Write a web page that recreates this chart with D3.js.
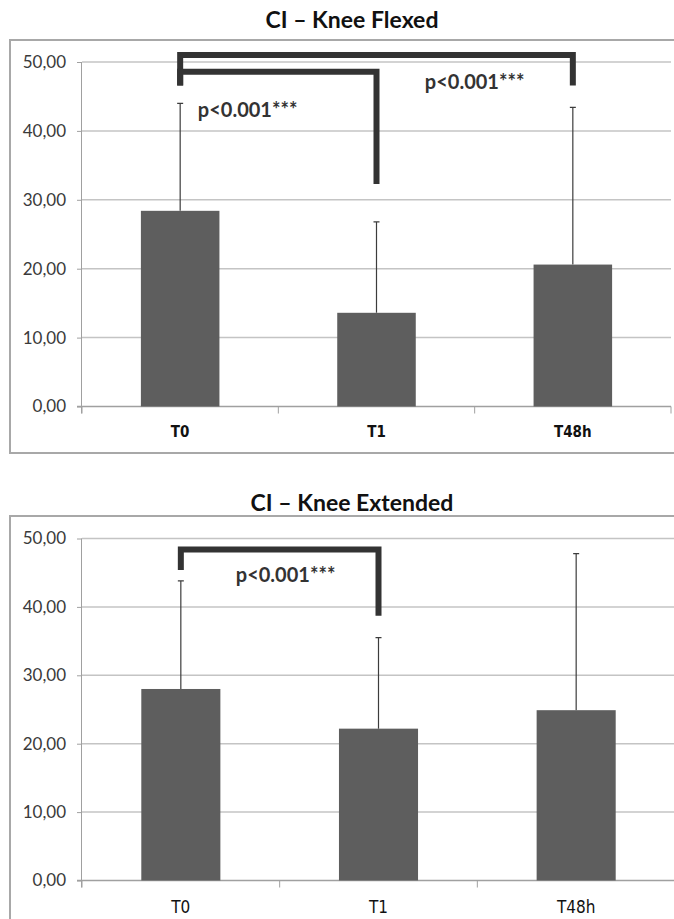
<!DOCTYPE html>
<html>
<head>
<meta charset="utf-8">
<script src="https://cdn.jsdelivr.net/npm/d3@7"></script>
<style>
  body { margin: 0; background: #fff; }
  svg { display: block; }
</style>
</head>
<body>
<div id="chart"></div>
<script>
const WIDTH = 674;
const HEIGHT = 919;

const categories = ["T0", "T1", "T48h"];
const yTicks = [0, 10, 20, 30, 40, 50];

// knee flexed: mean and SD (upper error bar only)
const flexedMeans = [28.4, 13.6, 20.6];
const flexedSD = [15.6, 13.2, 22.8];

// knee extended
const extendedMeans = [28.0, 22.2, 24.9];
const extendedSD = [15.8, 13.3, 22.9];

// significance brackets: from/to category, bar height level, end of legs
const flexedBrackets = [
    { from: "T0", to: "T48h", level: 51.0, leftEnd: 46.6, rightEnd: 46.6 },
    { from: "T0", to: "T1", level: 48.6, leftEnd: 46.6, rightEnd: 32.3 }
];
const extendedBrackets = [
    { from: "T0", to: "T1", level: 48.4, leftEnd: 45.4, rightEnd: 38.7 }
];
const flexedLabels = [
    { text: "p<0.001***", at: "T0", shift: 0.09, value: 43.1, anchor: "start" },
    { text: "p<0.001***", at: "T1", shift: 0.5, value: 47.1, anchor: "middle" }
];
const extendedLabels = [
    { text: "p<0.001***", at: "T0", shift: 0.53, value: 44.6, anchor: "middle" }
];

const svg = d3.select("#chart")
    .append("svg")
        .attr("width", WIDTH)
        .attr("height", HEIGHT)

function drawChart(opt) {
    const g = svg.append("g")

    // outer frame (runs off the right edge like the original)
    g.append("rect")
        .attr("x", 10)
        .attr("y", opt.frameTop)
        .attr("width", 700)
        .attr("height", opt.frameBottom - opt.frameTop)
        .attr("fill", "#fff")
        .attr("stroke", "#a8a8a8")
        .attr("stroke-width", 2)

    g.append("text")
        .attr("x", 352)
        .attr("y", opt.titleY)
        .attr("text-anchor", "middle")
        .attr("font-family", "Lato, 'Open Sans', sans-serif")
        .attr("font-weight", "bold")
        .attr("font-size", 23)
        .attr("fill", "#111")
        .text(opt.title)

    const y = d3.scaleLinear()
        .domain([0, 50])
        .range([opt.y0, opt.y50])

    const x = d3.scaleBand()
        .domain(categories)
        .range(opt.xRange)
        .padding(0)

    // gridlines
    g.selectAll(".grid")
        .data(yTicks.filter(d => d > 0))
        .enter()
        .append("line")
            .attr("x1", opt.xRange[0])
            .attr("x2", opt.xRange[1])
            .attr("y1", d => y(d))
            .attr("y2", d => y(d))
            .attr("stroke", "#c4c4c4")
            .attr("stroke-width", 1.5)

    // y axis
    const yAxis = d3.axisLeft(y)
        .tickValues(yTicks)
        .tickSize(5)
        .tickPadding(11)
        .tickFormat(d => d3.format(".2f")(d).replace(".", ","))

    const ya = g.append("g")
        .attr("transform", `translate(${opt.xRange[0]},0)`)
        .call(yAxis)
    ya.select(".domain").attr("stroke", "#a0a0a0").attr("d", `M-0.5,${opt.y50}V${opt.y0 + 7}`)
    ya.selectAll(".tick line").attr("stroke", "#a0a0a0")
    ya.selectAll(".tick text")
        .attr("font-family", "Lato, 'Open Sans', sans-serif")
        .attr("font-size", 17)
        .attr("fill", "#3a3a3a")

    // x axis with ticks at band edges
    const edges = categories.map(c => x(c)).concat([opt.xRange[1]])
    g.append("line")
        .attr("x1", opt.xRange[0] - 5)
        .attr("x2", opt.xRange[1])
        .attr("y1", y(0))
        .attr("y2", y(0))
        .attr("stroke", "#a0a0a0")
        .attr("stroke-width", 1.5)
    g.selectAll(".xtick")
        .data(edges)
        .enter()
        .append("line")
            .attr("x1", d => d)
            .attr("x2", d => d)
            .attr("y1", y(0))
            .attr("y2", y(0) + 7)
            .attr("stroke", "#a0a0a0")

    g.selectAll(".xlabel")
        .data(categories)
        .enter()
        .append("text")
            .attr("x", d => x(d) + x.bandwidth() / 2)
            .attr("y", opt.labelY)
            .attr("text-anchor", "middle")
            .attr("font-family", "'DejaVu Sans Condensed', 'DejaVu Sans', sans-serif")
            .attr("font-stretch", "condensed")
            .attr("font-weight", opt.labelBold ? "bold" : "normal")
            .attr("font-size", opt.labelSize)
            .attr("fill", "#111")
            .text(d => d)

    const barW = x.bandwidth() * 0.4
    const cx = d => x(d) + x.bandwidth() / 2

    // error bars (upper only)
    g.selectAll(".err")
        .data(categories)
        .enter()
        .append("path")
            .attr("d", (d, i) => {
                const top = y(opt.means[i] + opt.sd[i])
                return `M${cx(d)},${y(opt.means[i])}V${top}M${cx(d) - 3},${top}H${cx(d) + 3}`
            })
            .attr("stroke", "#3c3c3c")
            .attr("stroke-width", 1.2)
            .attr("fill", "none")

    g.selectAll(".bar")
        .data(categories)
        .enter()
        .append("rect")
            .attr("x", d => cx(d) - barW / 2)
            .attr("y", (d, i) => y(opt.means[i]))
            .attr("width", barW)
            .attr("height", (d, i) => y(0) - y(opt.means[i]))
            .attr("fill", "#5e5e5e")

    // significance brackets
    g.selectAll(".bracket")
        .data(opt.brackets)
        .enter()
        .append("path")
            .attr("d", b => `M${cx(b.from)},${y(b.leftEnd)}V${y(b.level)}H${cx(b.to)}V${y(b.rightEnd)}`)
            .attr("fill", "none")
            .attr("stroke", "#333")
            .attr("stroke-width", 6)
            .attr("stroke-linejoin", "miter")

    g.selectAll(".plabel")
        .data(opt.labels)
        .enter()
        .append("text")
            .attr("x", l => cx(l.at) + l.shift * x.bandwidth())
            .attr("y", l => y(l.value))
            .attr("dy", "0.35em")
            .attr("text-anchor", l => l.anchor)
            .attr("font-family", "Lato, 'Open Sans', sans-serif")
            .attr("font-weight", "bold")
            .attr("font-size", 20)
            .attr("fill", "#333")
            .text(l => l.text)
}

drawChart({
    title: "CI \u2013 Knee Flexed",
    titleY: 28,
    frameTop: 40,
    frameBottom: 453,
    y0: 406.5,
    y50: 62,
    xRange: [82, 671],
    labelY: 437,
    labelBold: true,
    labelSize: 15,
    means: flexedMeans,
    sd: flexedSD,
    brackets: flexedBrackets,
    labels: flexedLabels
})

drawChart({
    title: "CI \u2013 Knee Extended",
    titleY: 511,
    frameTop: 516,
    frameBottom: 940,
    y0: 880.5,
    y50: 538.5,
    xRange: [82, 675],
    labelY: 913,
    labelBold: false,
    labelSize: 17,
    means: extendedMeans,
    sd: extendedSD,
    brackets: extendedBrackets,
    labels: extendedLabels
})
</script>
</body>
</html>
